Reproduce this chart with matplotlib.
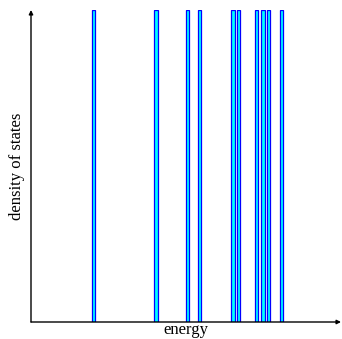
import matplotlib
matplotlib.use("Agg")
import matplotlib.pyplot as plt

# energy levels (arbitrary units)
levels = [2.02, 4.03, 5.05, 5.44, 6.51, 6.70, 7.28, 7.48, 7.67, 8.09]
heights = [1.0] * len(levels)

plt.rcParams["font.family"] = ["Liberation Serif", "DejaVu Serif"]

fig = plt.figure(figsize=(3.42, 3.39), dpi=100)
ax = fig.add_axes([31 / 342, 17 / 339, 310 / 342, 312 / 339])

ax.bar(levels, heights, width=0.11, color="cyan", edgecolor="blue", linewidth=0.9)

ax.set_xlim(0, 10)
ax.set_ylim(0, 1)
ax.set_xticks([])
ax.set_yticks([])
for s in ax.spines.values():
    s.set_visible(False)

# axes drawn as arrows
arrow = dict(arrowstyle="-|>", color="black", lw=1.0, mutation_scale=6,
             shrinkA=0, shrinkB=0)
ax.annotate("", xy=(1.0, 0), xytext=(0, 0), xycoords="axes fraction", arrowprops=arrow)
ax.annotate("", xy=(0, 1.0), xytext=(0, 0), xycoords="axes fraction", arrowprops=arrow)

ax.set_xlabel("energy", fontsize=12, labelpad=0)
ax.set_ylabel("density of states", fontsize=12, labelpad=4)

fig.savefig("out.png", dpi=100)
